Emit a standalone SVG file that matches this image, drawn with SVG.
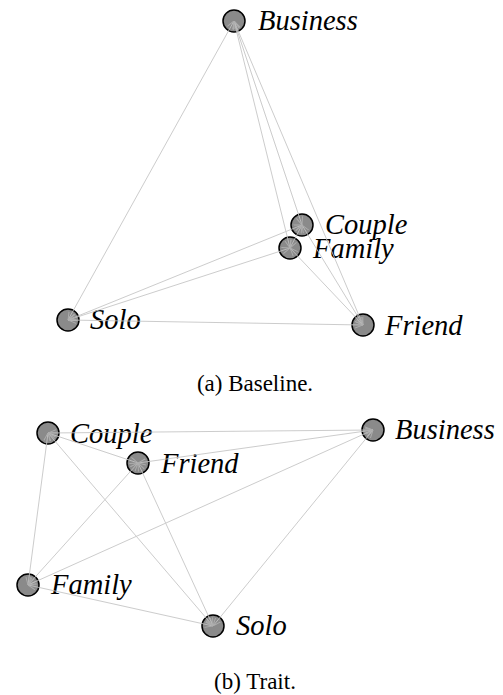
<svg xmlns="http://www.w3.org/2000/svg" width="503" height="695" viewBox="0 0 503 695">
<style>
.n{fill:#8a8a8a;stroke:#000;stroke-width:1.5}
.l{font-family:"Liberation Serif","Times New Roman",Times,serif;font-style:italic;font-size:28.5px;fill:#000}
.c{font-family:"Liberation Serif","Times New Roman",Times,serif;font-size:23px;fill:#000;text-anchor:middle}
.e line{stroke:#c4c4c4;stroke-width:1;fill:none;marker-end:url(#a);marker-start:url(#a)}
</style>
<defs>
<marker id="a" viewBox="0 0 10 10" refX="10" refY="5" markerWidth="8" markerHeight="8" markerUnits="userSpaceOnUse" orient="auto-start-reverse">
<path d="M0,1 L10,5 L0,9" fill="none" stroke="#b4b4b4" stroke-width="1.2"/>
</marker>
</defs>
<rect width="503" height="695" fill="#fff"/>
<g id="nodesA">
<g id="a-business"><circle class="n" cx="234" cy="21" r="11"/><text class="l" x="258" y="30">Business</text></g>
<g id="a-couple"><circle class="n" cx="302" cy="225" r="11"/><text class="l" x="325" y="234">Couple</text></g>
<g id="a-family"><circle class="n" cx="290" cy="248" r="11"/><text class="l" x="313" y="258">Family</text></g>
<g id="a-solo"><circle class="n" cx="68" cy="320" r="11"/><text class="l" x="90" y="329">Solo</text></g>
<g id="a-friend"><circle class="n" cx="363" cy="325" r="11"/><text class="l" x="385" y="335">Friend</text></g>
</g>
<g id="nodesB">
<g id="b-couple"><circle class="n" cx="48" cy="433" r="11"/><text class="l" x="70" y="443">Couple</text></g>
<g id="b-friend"><circle class="n" cx="138" cy="463" r="11"/><text class="l" x="161" y="473">Friend</text></g>
<g id="b-business"><circle class="n" cx="373" cy="430" r="11"/><text class="l" x="395" y="439">Business</text></g>
<g id="b-family"><circle class="n" cx="28" cy="585" r="11"/><text class="l" x="51" y="594">Family</text></g>
<g id="b-solo"><circle class="n" cx="213" cy="626" r="11"/><text class="l" x="236" y="635">Solo</text></g>
</g>
<g id="connectors" class="e" opacity="0.85">
<line x1="234" y1="21" x2="302" y2="225"/>
<line x1="234" y1="21" x2="290" y2="248"/>
<line x1="234" y1="21" x2="363" y2="325"/>
<line x1="234" y1="21" x2="68" y2="320"/>
<line x1="302" y1="225" x2="290" y2="248"/>
<line x1="302" y1="225" x2="363" y2="325"/>
<line x1="302" y1="225" x2="68" y2="320"/>
<line x1="290" y1="248" x2="363" y2="325"/>
<line x1="290" y1="248" x2="68" y2="320"/>
<line x1="68" y1="320" x2="363" y2="325"/>
<line x1="48" y1="433" x2="373" y2="430"/>
<line x1="48" y1="433" x2="138" y2="463"/>
<line x1="48" y1="433" x2="28" y2="585"/>
<line x1="48" y1="433" x2="213" y2="626"/>
<line x1="138" y1="463" x2="373" y2="430"/>
<line x1="138" y1="463" x2="28" y2="585"/>
<line x1="138" y1="463" x2="213" y2="626"/>
<line x1="373" y1="430" x2="28" y2="585"/>
<line x1="373" y1="430" x2="213" y2="626"/>
<line x1="28" y1="585" x2="213" y2="626"/>
</g>
<text class="c" x="255" y="391">(a) Baseline.</text>
<text class="c" x="255" y="689">(b) Trait.</text>
</svg>
